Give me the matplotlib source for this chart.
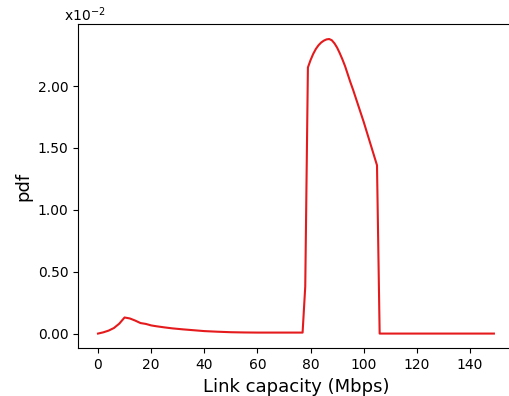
import matplotlib
matplotlib.use("Agg")
import matplotlib.pyplot as plt
from matplotlib.ticker import FuncFormatter, MultipleLocator

# link capacity (Mbps) and pdf values (in units of 1e-2)
capacity = [0, 2, 4, 6, 8, 10, 12, 14, 16, 18, 20, 22, 25, 28, 32, 36, 40, 45,
            50, 55, 60, 70, 77, 78,
            79, 80, 81, 82, 83, 84, 85, 86, 87, 88, 89, 90, 91, 92, 93, 94, 95,
            96, 97, 98, 99, 100, 101, 102, 103, 104, 105,
            106, 120, 149]
pdf_e2 = [0.000, 0.010, 0.024, 0.045, 0.080, 0.130, 0.122, 0.105, 0.085, 0.078,
          0.066, 0.059, 0.050, 0.042, 0.034, 0.027, 0.020, 0.015,
          0.011, 0.009, 0.008, 0.008, 0.008, 0.380,
          2.150, 2.210, 2.260, 2.300, 2.330, 2.352, 2.367, 2.377, 2.380, 2.370,
          2.345, 2.310, 2.265, 2.215, 2.160, 2.095, 2.030,
          1.970, 1.905, 1.840, 1.775, 1.710, 1.640, 1.570, 1.500, 1.430, 1.360,
          0.000, 0.000, 0.000]

W, H = 510, 396
fig = plt.figure(figsize=(W / 100, H / 100), dpi=100)
ax = fig.add_axes([78.2 / W, (H - 348.3) / H, (513.7 - 78.2) / W, (348.3 - 24.3) / H])

ax.plot(capacity, pdf_e2, color="#e41a1c", lw=1.5)
ax.spines["right"].set_visible(False)

ax.yaxis.set_major_locator(MultipleLocator(0.5))
ax.yaxis.set_major_formatter(FuncFormatter(lambda v, p: "%.2f" % v))
ax.xaxis.set_major_locator(MultipleLocator(20))
ax.tick_params(labelsize=10)

ax.set_xlabel("Link capacity (Mbps)", fontsize=13)
ax.set_ylabel("pdf", fontsize=13)
fig.text(64 / W, (H - 21) / H, "x10$^{-2}$", fontsize=10, ha="left", va="baseline")

fig.savefig("out.png", dpi=100)
